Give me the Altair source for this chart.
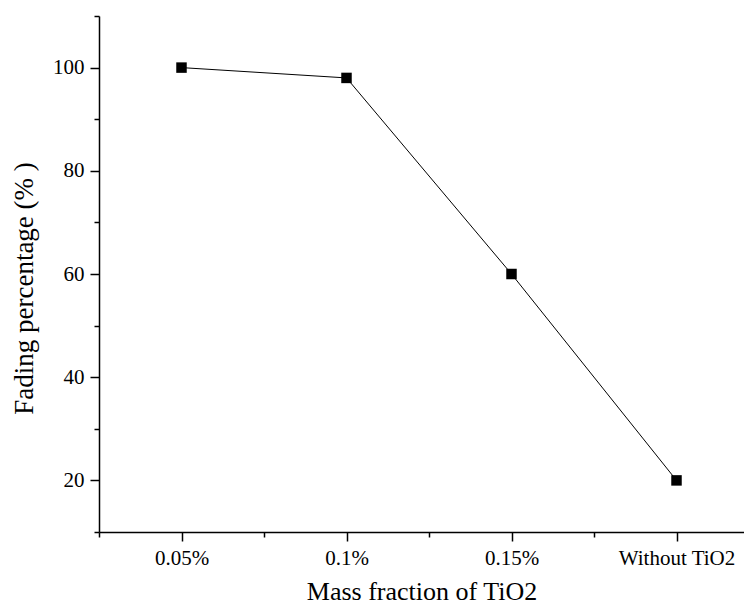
import json
import altair as alt
import pandas as pd

categories = ["0.05%", "0.1%", "0.15%", "Without TiO2"]
fading = [100, 98, 60, 20]

df = pd.DataFrame({
    "idx": list(range(1, len(categories) + 1)),
    "category": categories,
    "fading": fading,
})

label_map = json.dumps({str(i + 1): c for i, c in enumerate(categories)})

FONT = "Liberation Serif"

x_ticks = [0.5 + 0.5 * k for k in range(8)]  # 0.5 .. 4.0
y_ticks = list(range(10, 111, 10))

x_axis = alt.Axis(
    values=x_ticks,
    labelExpr=f"{label_map}[datum.value + ''] || ''",
    tickSize={"condition": {"test": "datum.value % 1 === 0", "value": 9}, "value": 5},
    tickWidth=1.5,
    tickColor="black",
    domainColor="black",
    domainWidth=1.5,
    grid=False,
    labelFont=FONT,
    labelFontSize=21,
    labelColor="black",
    labelPadding=6,
    labelOverlap=False,
    labelFlush=False,
    labelBound=False,
    title="Mass fraction of TiO2",
    titleFont=FONT,
    titleFontSize=26,
    titleFontWeight="normal",
    titleColor="black",
    titlePadding=10,
)

y_axis = alt.Axis(
    values=y_ticks,
    labelExpr="datum.value % 20 === 0 ? datum.value : ''",
    tickSize={"condition": {"test": "datum.value % 20 === 0", "value": 9}, "value": 5},
    tickWidth=1.5,
    tickColor="black",
    domainColor="black",
    domainWidth=1.5,
    grid=False,
    labelFont=FONT,
    labelFontSize=21,
    labelColor="black",
    labelPadding=6,
    labelOverlap=False,
    labelFlush=False,
    title="Fading percentage (% )",
    titleFont=FONT,
    titleFontSize=27,
    titleFontWeight="normal",
    titleColor="black",
    titlePadding=14,
    titleY=272,
)

x_enc = alt.X("idx:Q", scale=alt.Scale(domain=[0.5, 0.5 + 645 / 165], nice=False, zero=False), axis=x_axis)
y_enc = alt.Y("fading:Q", scale=alt.Scale(domain=[10, 110], nice=False, zero=False), axis=y_axis)

line = alt.Chart(df).mark_line(color="black", strokeWidth=1).encode(x=x_enc, y=y_enc)
pts = alt.Chart(df).mark_point(shape="square", filled=True, color="black", size=110, opacity=1).encode(x=x_enc, y=y_enc)

chart = (
    alt.layer(line, pts)
    .properties(
        width=645,
        height=516,
        autosize=alt.AutoSizeParams(type="none"),
        padding={"left": 91, "top": 8, "right": 0, "bottom": 74},
        background="white",
    )
    .configure_view(stroke=None)
)

chart.save("out.html", embed_options={"renderer": "svg", "actions": False})
